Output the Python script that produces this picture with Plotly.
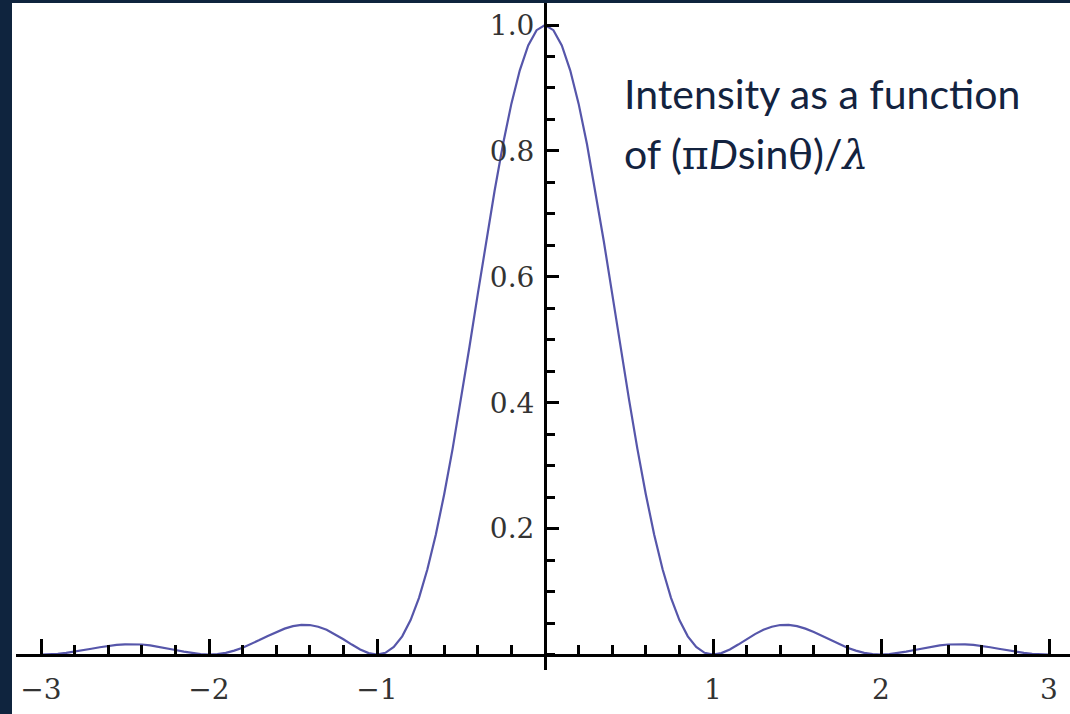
import plotly.graph_objects as go

# Sample positions along (pi D sin(theta))/lambda
x_vals = [
    -3.0, -2.95, -2.9, -2.85, -2.8, -2.75, -2.7, -2.65, -2.6, -2.55,
    -2.5, -2.45, -2.4, -2.35, -2.3, -2.25, -2.2, -2.15, -2.1, -2.05,
    -2.0, -1.95, -1.9, -1.85, -1.8, -1.75, -1.7, -1.65, -1.6, -1.55,
    -1.5, -1.45, -1.4, -1.35, -1.3, -1.25, -1.2, -1.15, -1.1, -1.05,
    -1.0, -0.95, -0.9, -0.85, -0.8, -0.75, -0.7, -0.65, -0.6, -0.55,
    -0.5, -0.45, -0.4, -0.35, -0.3, -0.25, -0.2, -0.15, -0.1, -0.05,
    0.0,
    0.05, 0.1, 0.15, 0.2, 0.25, 0.3, 0.35, 0.4, 0.45, 0.5,
    0.55, 0.6, 0.65, 0.7, 0.75, 0.8, 0.85, 0.9, 0.95, 1.0,
    1.05, 1.1, 1.15, 1.2, 1.25, 1.3, 1.35, 1.4, 1.45, 1.5,
    1.55, 1.6, 1.65, 1.7, 1.75, 1.8, 1.85, 1.9, 1.95, 2.0,
    2.05, 2.1, 2.15, 2.2, 2.25, 2.3, 2.35, 2.4, 2.45, 2.5,
    2.55, 2.6, 2.65, 2.7, 2.75, 2.8, 2.85, 2.9, 2.95, 3.0,
]

# Relative intensity
intensity = [
    0.0, 0.0003, 0.0012, 0.0026, 0.0045, 0.0067, 0.0091, 0.0115, 0.0136, 0.0152,
    0.0162, 0.0165, 0.0159, 0.0146, 0.0125, 0.0100, 0.0072, 0.0045, 0.0022, 0.0006,
    0.0, 0.0007, 0.0027, 0.0061, 0.0108, 0.0165, 0.0229, 0.0295, 0.0358, 0.0411,
    0.0450, 0.0470, 0.0468, 0.0441, 0.0392, 0.0324, 0.0243, 0.0158, 0.0080, 0.0022,
    0.0, 0.0027, 0.0119, 0.0289, 0.0547, 0.0901, 0.1353, 0.1904, 0.2546, 0.3267,
    0.4053, 0.4881, 0.5728, 0.6566, 0.7368, 0.8106, 0.8751, 0.9281, 0.9675, 0.9918,
    1.0,
    0.9918, 0.9675, 0.9281, 0.8751, 0.8106, 0.7368, 0.6566, 0.5728, 0.4881, 0.4053,
    0.3267, 0.2546, 0.1904, 0.1353, 0.0901, 0.0547, 0.0289, 0.0119, 0.0027, 0.0,
    0.0022, 0.0080, 0.0158, 0.0243, 0.0324, 0.0392, 0.0441, 0.0468, 0.0470, 0.0450,
    0.0411, 0.0358, 0.0295, 0.0229, 0.0165, 0.0108, 0.0061, 0.0027, 0.0007, 0.0,
    0.0006, 0.0022, 0.0045, 0.0072, 0.0100, 0.0125, 0.0146, 0.0159, 0.0165, 0.0162,
    0.0152, 0.0136, 0.0115, 0.0091, 0.0067, 0.0045, 0.0026, 0.0012, 0.0003, 0.0,
]

x_tick_vals = [-3, -2, -1, 1, 2, 3]
x_tick_text = ["\u22123", "\u22122", "\u22121", "1", "2", "3"]
y_tick_vals = [0.2, 0.4, 0.6, 0.8, 1.0]
y_tick_text = ["0.2", "0.4", "0.6", "0.8", "1.0"]

NAVY = "#0f243e"
W, H = 1070, 714

def px_x(p):
    return p / W

def px_y(p):
    return (H - p) / H

tick_font = dict(family="DejaVu Serif", size=28, color="#333333")

fig = go.Figure()
fig.add_trace(go.Scatter(
    x=x_vals, y=intensity, mode="lines",
    line=dict(color="#5656aa", width=2.2),
    hoverinfo="skip", showlegend=False,
))

fig.update_layout(
    width=W, height=H,
    margin=dict(l=0, r=0, t=0, b=0, pad=0, autoexpand=False),
    paper_bgcolor="white",
    plot_bgcolor="white",
    showlegend=False,
    xaxis=dict(
        domain=[px_x(16), 1.0],
        range=[-3.1488, 3.125],
        anchor="free", position=px_y(654.5),
        automargin=False,
        showgrid=False, zeroline=False,
        showline=True, linecolor="black", linewidth=3,
        tickmode="array", tickvals=x_tick_vals, ticktext=x_tick_text,
        ticks="inside", ticklen=15, tickwidth=3, tickcolor="black",
        tickfont=tick_font, ticklabelstandoff=9,
        minor=dict(tickmode="linear", tick0=0, dtick=0.2, ticks="inside",
                   ticklen=9, tickwidth=3, tickcolor="black", showgrid=False),
    ),
    yaxis=dict(
        domain=[px_y(670), 1.0],
        range=[-0.02462, 1.03975],
        anchor="free", position=px_x(545),
        automargin=False,
        showgrid=False, zeroline=False,
        showline=True, linecolor="black", linewidth=3,
        tickmode="array", tickvals=y_tick_vals, ticktext=y_tick_text,
        ticks="inside", ticklen=12, tickwidth=3, tickcolor="black",
        tickfont=tick_font, ticklabelstandoff=4,
        minor=dict(tickmode="linear", tick0=0, dtick=0.05, ticks="inside",
                   ticklen=8, tickwidth=3, tickcolor="black", showgrid=False),
    ),
)

# navy slide frame (left and top strips)
fig.add_shape(type="rect", xref="paper", yref="paper",
              x0=0, x1=px_x(12), y0=0, y1=1,
              fillcolor=NAVY, line=dict(width=0), layer="above")
fig.add_shape(type="rect", xref="paper", yref="paper",
              x0=0, x1=1, y0=px_y(3), y1=1,
              fillcolor=NAVY, line=dict(width=0), layer="above")

ann_font = dict(family="Lato", size=41, color="#13233f")
fig.add_annotation(
    xref="paper", yref="paper", x=px_x(622), y=px_y(94),
    xanchor="left", yanchor="middle", showarrow=False, align="left",
    text="Intensity as a function", font=ann_font,
)
greek = "<span style=\"font-family:'DejaVu Serif';font-weight:300\">%s</span>"
fig.add_annotation(
    xref="paper", yref="paper", x=px_x(622), y=px_y(154),
    xanchor="left", yanchor="middle", showarrow=False, align="left",
    text=("of (" + greek % "\u03c0" + "<i>D</i>sin" + greek % "\u03b8" + ")/"
          + greek % "<i>\u03bb</i>"),
    font=ann_font,
)

fig.write_html(
    "out.html",
    config={"displayModeBar": False},
    post_script="document.body.style.margin='0';document.body.style.overflow='hidden';",
)
